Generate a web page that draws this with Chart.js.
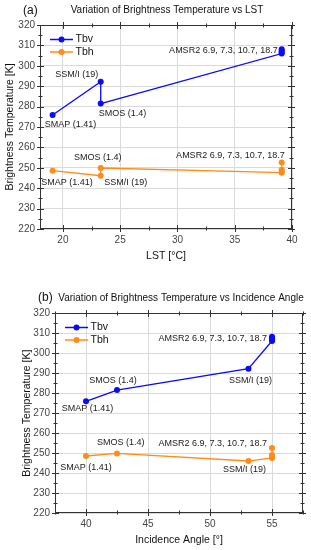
<!DOCTYPE html>
<html>
<head>
<meta charset="utf-8">
<script src="https://cdn.jsdelivr.net/npm/chart.js@4"></script>
<style>
  html, body { margin: 0; padding: 0; background: #fff; }
  canvas { display: block; }
</style>
</head>
<body>
<canvas id="chartA" width="311" height="270"></canvas>
<canvas id="chartB" width="311" height="280"></canvas>
<script>
const sensors = ['SMAP (1.41)', 'SSM/I (19)', 'SMOS (1.4)', 'AMSR2 6.9, 7.3, 10.7, 18.7'];
const sensorOf = [0, 1, 2, 3, 3, 3, 3];
const lst = [19.1, 23.3, 23.3, 39.1, 39.1, 39.1, 39.1];
const incAngle = [40, 53.1, 42.5, 55, 55, 55, 55];
const tbv = [275.9, 292.2, 281.5, 306.0, 306.6, 307.4, 308.1];
const tbh = [248.6, 246.1, 249.9, 247.6, 248.3, 249.1, 252.6];

const yTicks = [220, 230, 240, 250, 260, 270, 280, 290, 300, 310, 320];
const xTicksA = [20, 25, 30, 35, 40];
const xTicksB = [40, 45, 50, 55];

const FONT = "'Liberation Sans', Arial, sans-serif";
const BLUE = '#0a0aff';
const ORANGE = '#ff8c1a';
const GRID = '#dadada';

const buildSeries = (xVals, yVals) =>
  xVals.map((v, i) => i)
    .sort((a, b) => xVals[a] - xVals[b])
    .map(i => ({ x: xVals[i], y: yVals[i], s: sensorOf[i], first: i === 0 || sensorOf[i] !== sensorOf[i - 1] }));

const decor = {
  id: 'decor',
  afterDraw(chart, args, o) {
    const { ctx, chartArea: a, scales: { x, y } } = chart;
    const L = Math.round(a.left) + 0.5, R = Math.round(a.right) - 0.5;
    const T = Math.round(a.top) + 0.5, B = Math.round(a.bottom) - 0.5;
    ctx.save();
    ctx.strokeStyle = '#333';
    ctx.lineWidth = 1;
    ctx.strokeRect(L, T, R - L, B - T);
    const seg = (x1, y1, x2, y2) => { ctx.beginPath(); ctx.moveTo(x1, y1); ctx.lineTo(x2, y2); ctx.stroke(); };
    // major / minor ticks on all four sides
    for (let v = 220; v <= 320; v += 5) {
      const py = Math.round(y.getPixelForValue(v)) + 0.5;
      const len = v % 10 === 0 ? 3.5 : 2;
      seg(L - len, py, L + len, py);
      seg(R - len, py, R + len, py);
    }
    for (let v = o.xFrom; v <= o.xTo + 1e-9; v += 2.5) {
      const px = Math.round(x.getPixelForValue(v)) + 0.5;
      const len = v % 5 === 0 ? 3.5 : 2;
      seg(px, B - len, px, B + len);
      seg(px, T - len, px, T + len);
    }
    // titles
    ctx.fillStyle = '#111';
    ctx.textBaseline = 'middle';
    ctx.textAlign = 'left';
    ctx.font = '12px ' + FONT;
    ctx.fillText(o.tag, o.tagX, o.titleY);
    ctx.textAlign = 'center';
    ctx.font = '10px ' + FONT;
    ctx.fillText(o.title, o.titleX, o.titleY);
    ctx.font = '10.5px ' + FONT;
    ctx.fillText(o.xTitle, (a.left + a.right) / 2, o.xTitleY);
    ctx.save();
    ctx.translate(o.yTitleX, (a.top + a.bottom) / 2);
    ctx.rotate(-Math.PI / 2);
    ctx.fillText('Brightness Temperature [K]', 0, 0);
    ctx.restore();
    // point labels
    ctx.font = '9px ' + FONT;
    ctx.fillStyle = '#1a1a1a';
    chart.data.datasets.forEach((ds, di) => {
      const meta = chart.getDatasetMeta(di);
      ds.data.forEach((p, i) => {
        if (!p.first) return;
        const [dx, dy, align] = o.labelPos[di][p.s];
        const el = meta.data[i];
        ctx.textAlign = align;
        ctx.fillText(sensors[p.s], el.x + dx, el.y + dy);
      });
    });
    // legend
    ctx.font = '10.5px ' + FONT;
    ctx.textAlign = 'left';
    chart.data.datasets.forEach((ds, di) => {
      const ly = a.top + 14.5 + di * 12.5;
      ctx.strokeStyle = ds.borderColor;
      ctx.lineWidth = 1.5;
      seg(a.left + 10, ly, a.left + 33, ly);
      ctx.fillStyle = ds.borderColor;
      ctx.beginPath();
      ctx.arc(a.left + 21.5, ly, 3, 0, Math.PI * 2);
      ctx.fill();
      ctx.fillStyle = '#111';
      ctx.fillText(ds.label, a.left + 35.5, ly);
    });
    ctx.restore();
  }
};

function makeChart(id, xVals, xMin, xMax, xTicks, box, deco) {
  const lineStyle = color => ({
    borderColor: color, backgroundColor: color, borderWidth: 1.3,
    pointRadius: 3, pointHoverRadius: 3, pointBorderWidth: 0,
    showLine: true, tension: 0
  });
  return new Chart(document.getElementById(id), {
    type: 'scatter',
    data: {
      datasets: [
        { label: 'Tbv', data: buildSeries(xVals, tbv), ...lineStyle(BLUE) },
        { label: 'Tbh', data: buildSeries(xVals, tbh), ...lineStyle(ORANGE) }
      ]
    },
    options: {
      responsive: false,
      animation: false,
      devicePixelRatio: 1,
      layout: { padding: box.padding },
      plugins: { legend: { display: false }, tooltip: { enabled: false }, decor: deco },
      scales: {
        x: {
          type: 'linear', min: xMin, max: xMax,
          afterBuildTicks: s => { s.ticks = xTicks.map(v => ({ value: v })); },
          afterFit: s => { s.height = box.xHeight; },
          grid: { color: GRID, drawTicks: false },
          border: { display: false },
          ticks: { font: { family: FONT, size: 10 }, color: '#444', padding: 5, maxRotation: 0 }
        },
        y: {
          min: 220, max: 320,
          afterBuildTicks: s => { s.ticks = yTicks.map(v => ({ value: v })); },
          afterFit: s => { s.width = box.yWidth; },
          grid: { color: GRID, drawTicks: false },
          border: { display: false },
          ticks: { font: { family: FONT, size: 10 }, color: '#444', padding: 5 }
        }
      }
    },
    plugins: [decor]
  });
}

makeChart('chartA', lst, 18, 40, xTicksA,
  { padding: { top: 25, right: 19, bottom: 0, left: 0 }, xHeight: 41, yWidth: 40 },
  {
    tag: '(a)', tagX: 23, title: 'Variation of Brightness Temperature vs LST', titleX: 167, titleY: 10.5,
    xTitle: 'LST [°C]', xTitleY: 256.5, yTitleX: 10, xFrom: 20, xTo: 40,
    labelPos: [
      [[18, 10, 'center'], [-24, -7, 'center'], [-2, 10, 'left'], [-4, -3, 'right']],
      [[14.5, 11.5, 'center'], [3.5, 7, 'left'], [-3, -10, 'center'], [3, -17.5, 'right']]
    ]
  });

makeChart('chartB', incAngle, 37.5, 57.5, xTicksB,
  { padding: { top: 43, right: 8, bottom: 0, left: 0 }, xHeight: 36.7, yWidth: 55 },
  {
    tag: '(b)', tagX: 38, title: 'Variation of Brightness Temperature vs Incidence Angle', titleX: 181, titleY: 28,
    xTitle: 'Incidence Angle [°]', xTitleY: 270.5, yTitleX: 27.5, xFrom: 37.5, xTo: 57.5,
    labelPos: [
      [[1.5, 7.5, 'center'], [2, 11.5, 'center'], [-4, -9.7, 'center'], [-5, -2.3, 'right']],
      [[0, 11.5, 'center'], [-4, 8, 'center'], [3.7, -10.7, 'center'], [-5, -14.8, 'right']]
    ]
  });
</script>
</body>
</html>
